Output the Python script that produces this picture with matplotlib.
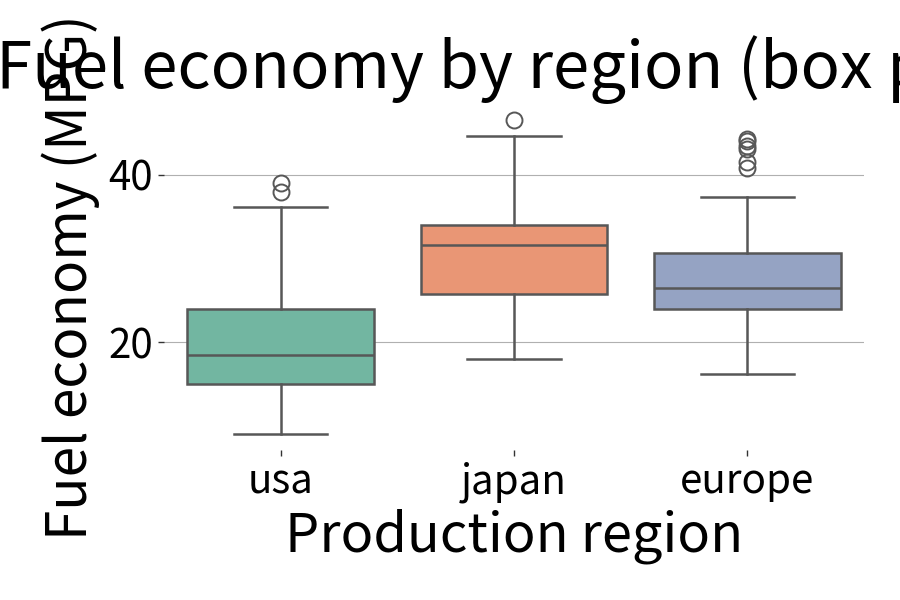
import matplotlib
matplotlib.use('Agg')
import matplotlib.pyplot as plt
import seaborn as sns

# values (MPG)
regions = ['usa', 'japan', 'europe']
q1 = [15.0, 25.7, 24.0]
med = [18.5, 31.6, 26.5]
q3 = [24.0, 34.05, 30.65]
whis_lo = [9.0, 18.0, 16.2]
whis_hi = [36.1, 44.6, 37.3]
fliers = [[38.0, 39.0], [46.6], [40.8, 41.5, 43.1, 43.4, 44.0, 44.3]]

plt.rcParams['font.family'] = ['Noto Sans CJK JP', 'DejaVu Sans']

pal = [sns.desaturate(c, 0.75) for c in sns.color_palette('Set2', 3)]
edge = '#575757'

stats = []
for i, r in enumerate(regions):
    stats.append(dict(label=r, q1=q1[i], med=med[i], q3=q3[i],
                      whislo=whis_lo[i], whishi=whis_hi[i], fliers=fliers[i]))

fig = plt.figure(figsize=(9, 6), dpi=100)
ax = fig.add_axes([0.182, 0.25, 0.778, 0.577])

bp = ax.bxp(stats, positions=range(len(regions)), widths=0.8, patch_artist=True,
            boxprops=dict(edgecolor=edge, linewidth=1.8),
            medianprops=dict(color=edge, linewidth=1.8),
            whiskerprops=dict(color=edge, linewidth=1.8),
            capprops=dict(color=edge, linewidth=1.8),
            flierprops=dict(marker='o', markerfacecolor='none', markeredgecolor=edge,
                            markersize=11.5, markeredgewidth=1.4))
for patch, c in zip(bp['boxes'], pal):
    patch.set_facecolor(c)

ax.set_xlim(-0.5, 2.5)
ax.set_xticks(range(len(regions)))
ax.set_xticklabels(regions)
ax.set_yticks([20, 40])
ax.yaxis.grid(True, color='#b0b0b0', linewidth=0.8)
ax.set_axisbelow(True)
for s in ax.spines.values():
    s.set_visible(False)
ax.tick_params(axis='both', labelsize=29, length=4.5, width=1, color='#333333')

ax.set_title('Fuel economy by region (box plot)', fontsize=47, pad=8)
ax.set_xlabel('Production region', fontsize=39)
ax.set_ylabel('Fuel economy (MPG)', fontsize=39.5, labelpad=6)

fig.savefig('out.png')
